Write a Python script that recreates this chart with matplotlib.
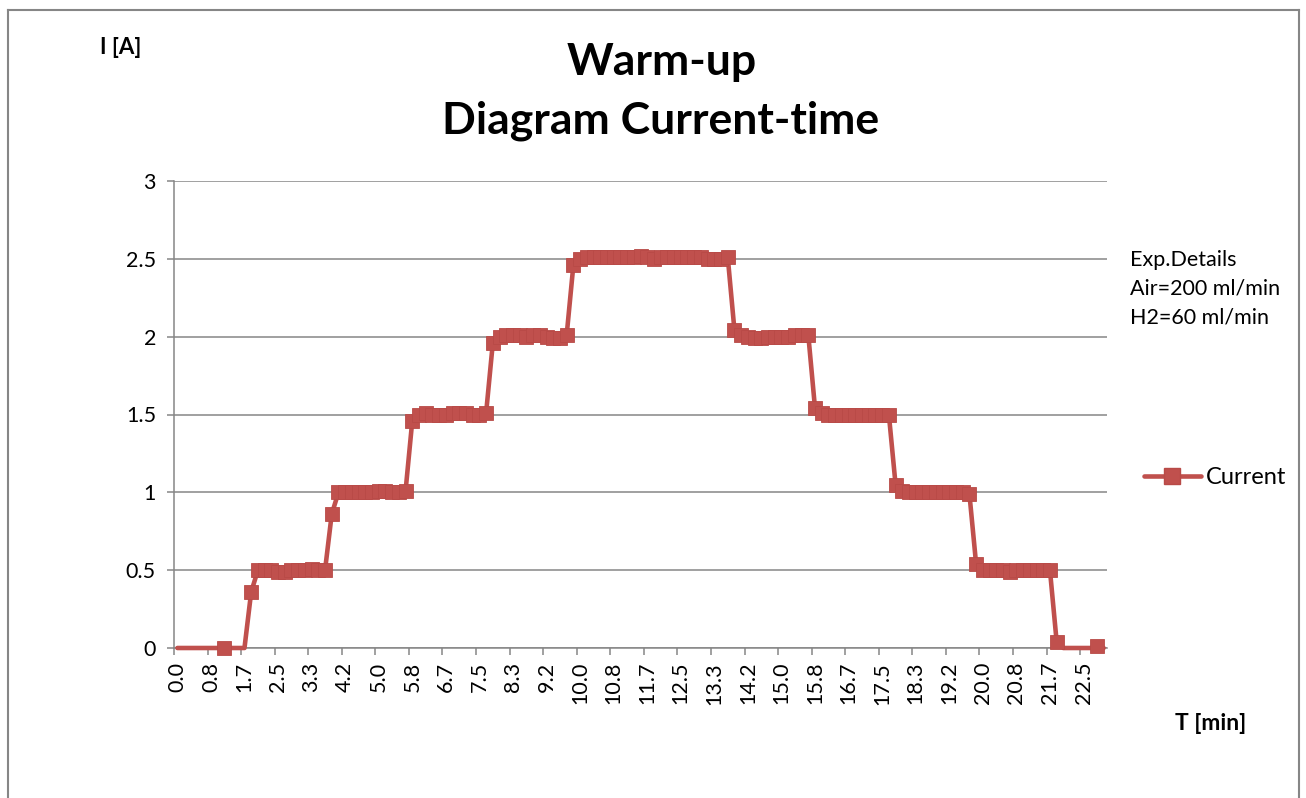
import numpy as np
import matplotlib
matplotlib.use("Agg")
import matplotlib.pyplot as plt
from matplotlib.lines import Line2D

# Current readings, one per 10 s sample (None = empty cell, drawn as zero without a marker)
current = (
    [None] * 7 + [0.0] + [None] * 3 + [0.36]
    + [0.50, 0.50, 0.50, 0.49, 0.49, 0.50, 0.50, 0.50, 0.51, 0.50, 0.50]
    + [0.86]
    + [1.00, 1.00, 1.00, 1.00, 1.00, 1.00, 1.01, 1.01, 1.00, 1.00, 1.01]
    + [1.46]
    + [1.50, 1.51, 1.50, 1.50, 1.50, 1.51, 1.51, 1.51, 1.50, 1.50, 1.51]
    + [1.96]
    + [2.00, 2.01, 2.01, 2.01, 2.00, 2.01, 2.01, 2.00, 1.99, 1.99, 2.01]
    + [2.46]
    + [2.50, 2.51, 2.51, 2.51, 2.51, 2.51, 2.51, 2.51, 2.51, 2.52, 2.51, 2.50,
       2.51, 2.51, 2.51, 2.51, 2.51, 2.51, 2.51, 2.50, 2.50, 2.50, 2.51]
    + [2.04]
    + [2.01, 2.00, 1.99, 1.99, 2.00, 2.00, 2.00, 2.00, 2.01, 2.01, 2.01]
    + [1.54]
    + [1.51, 1.50, 1.50, 1.50, 1.50, 1.50, 1.50, 1.50, 1.50, 1.50, 1.50]
    + [1.05]
    + [1.01, 1.00, 1.00, 1.00, 1.00, 1.00, 1.00, 1.00, 1.00, 1.00, 0.99]
    + [0.54]
    + [0.50, 0.50, 0.50, 0.50, 0.49, 0.50, 0.50, 0.50, 0.50, 0.50, 0.50]
    + [0.04]
    + [None] * 5 + [0.01] + [None]
)

n = len(current)
minutes = np.arange(n) / 6.0                      # sample time in minutes
time_labels = [f"{t:.1f}" for t in minutes]       # category labels
label_step = 5
y_ticks = [0, 0.5, 1, 1.5, 2, 2.5, 3]
y_tick_labels = ["0", "0.5", "1", "1.5", "2", "2.5", "3"]
details = ["Exp.Details", "Air=200 ml/min", "H2=60 ml/min"]

W, H = 1306, 798
RED = "#C0504D"
EDGE = "#B84A47"
GRID = "#868686"
FONT = "Lato"

plt.rcParams["font.family"] = [FONT, "DejaVu Sans"]

fig = plt.figure(figsize=(W / 100, H / 100), dpi=100)
fig.patch.set_facecolor("white")

def fx(px):
    return px / W

def fy(py):
    return 1 - py / H

ax = fig.add_axes([fx(174), fy(648), fx(1107) - fx(174), fy(181) - fy(648)])

idx = np.arange(n)
vals = np.array([np.nan if v is None else v for v in current], dtype=float)
line_vals = np.nan_to_num(vals, nan=0.0)

ax.plot(idx, line_vals, color=RED, lw=3.3, solid_joinstyle="round",
        solid_capstyle="round", clip_on=False, zorder=3)
ax.plot(idx, vals, linestyle="none", marker="s", markersize=10,
        markerfacecolor=RED, markeredgecolor=EDGE, markeredgewidth=0.6,
        clip_on=False, zorder=4)

ax.set_xlim(-0.5, n - 0.5)
ax.set_ylim(0, 3)

# y axis
ax.set_yticks(y_ticks)
ax.set_yticklabels(y_tick_labels)
ax.yaxis.grid(True, color=GRID, lw=1.1)
ax.set_axisbelow(True)
ax.tick_params(axis="y", direction="out", length=5, width=1.1, color=GRID,
               labelsize=15.5, pad=8, labelcolor="black")

# x axis: tick marks between categories, labels on category centres
ax.set_xticks(np.arange(-0.5, n - 0.5, label_step))
ax.set_xticklabels([])
ax.set_xticks(np.arange(0, n, label_step), minor=True)
ax.set_xticklabels(time_labels[::label_step], minor=True, rotation=90)
ax.tick_params(axis="x", which="major", direction="out", length=5, width=1.1,
               color=GRID)
ax.tick_params(axis="x", which="minor", length=0, labelsize=15.5, pad=10,
               labelcolor="black")

for side in ("top", "right"):
    ax.spines[side].set_visible(False)
for side in ("left", "bottom"):
    ax.spines[side].set_color(GRID)
    ax.spines[side].set_linewidth(1.1)

# titles and axis captions
fig.text(fx(662), fy(62), "Warm-up", ha="center", va="center",
         fontsize=32, fontweight="bold")
fig.text(fx(661), fy(121), "Diagram Current-time", ha="center", va="center",
         fontsize=32, fontweight="bold")
fig.text(fx(100), fy(47), "I [A]", ha="left", va="center",
         fontsize=16, fontweight="bold")
fig.text(fx(1175), fy(723), "T [min]", ha="left", va="center",
         fontsize=16.5, fontweight="bold")

# experiment details
for k, s in enumerate(details):
    fig.text(fx(1130), fy(260 + 29 * k), s, ha="left", va="center", fontsize=15.5)

# legend
leg = ax.legend(["Current"], loc="center left",
                bbox_to_anchor=(fx(1144), fy(478)),
                bbox_transform=fig.transFigure, frameon=False,
                fontsize=17, handlelength=2.4, handletextpad=0.2,
                borderpad=0, borderaxespad=0)
handle = leg.legend_handles[0]
handle.set_marker("s")
handle.set_markersize(11)
handle.set_markerfacecolor(RED)
handle.set_markeredgecolor(EDGE)
handle.set_linewidth(3.3)

# chart area frame
frame_kw = dict(color=GRID, lw=1.5, transform=fig.transFigure)
fig.add_artist(Line2D([fx(8), fx(1299)], [fy(10), fy(10)], **frame_kw))
fig.add_artist(Line2D([fx(8), fx(8)], [fy(10), fy(800)], **frame_kw))
fig.add_artist(Line2D([fx(1299), fx(1299)], [fy(10), fy(800)], **frame_kw))

fig.savefig("out.png", dpi=100)
